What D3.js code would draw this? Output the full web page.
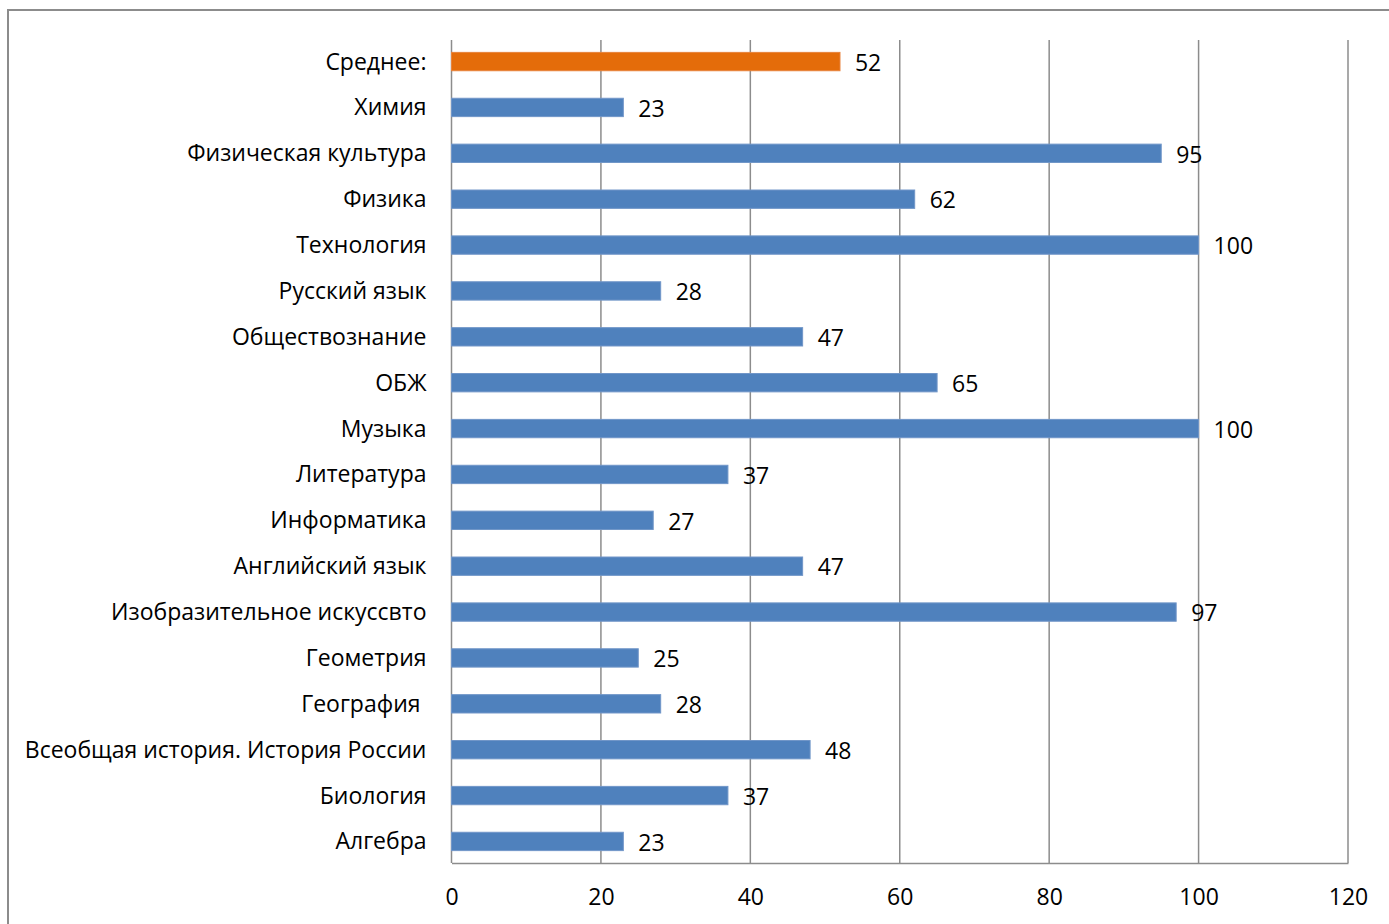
<!DOCTYPE html>
<html>
<head>
<meta charset="utf-8">
<script src="https://cdn.jsdelivr.net/npm/d3@7"></script>
<style>
  body { margin: 0; background: #fff; }
  text { font-family: "Open Sans", sans-serif; fill: #000; }
</style>
</head>
<body>
<div id="chart"></div>
<script>
var svgWidth = 1389;
var svgHeight = 924;

var subjects = ["Среднее:", "Химия", "Физическая культура", "Физика", "Технология",
    "Русский язык", "Обществознание", "ОБЖ", "Музыка", "Литература", "Информатика",
    "Английский язык", "Изобразительное искуссвто", "Геометрия", "География ",
    "Всеобщая история. История России", "Биология", "Алгебра"];
var scores = [52, 23, 95, 62, 100, 28, 47, 65, 100, 37, 27, 47, 97, 25, 28, 48, 37, 23];
var xTicks = [0, 20, 40, 60, 80, 100, 120];

var margin = { top: 40, right: 41, bottom: 61, left: 451.5 };
var width = svgWidth - margin.left - margin.right;
var height = svgHeight - margin.top - margin.bottom;

var svg = d3.select("#chart")
    .append("svg")
    .attr("width", svgWidth)
    .attr("height", svgHeight);

// outer chart border
svg.append("rect")
    .attr("x", 8)
    .attr("y", 10)
    .attr("width", svgWidth)
    .attr("height", svgHeight)
    .attr("fill", "none")
    .attr("stroke", "#8c8c8c")
    .attr("stroke-width", 2);

var chartGroup = svg.append("g")
    .attr("transform", `translate(${margin.left}, ${margin.top})`);

var xScale = d3.scaleLinear()
    .domain([0, 120])
    .range([0, width]);

var yScale = d3.scaleBand()
    .domain(subjects)
    .range([0, height])
    .paddingInner(0.6)
    .paddingOuter(0.27);

// gridlines
chartGroup.selectAll(".grid")
    .data(xTicks)
    .enter()
    .append("line")
    .attr("x1", d => xScale(d))
    .attr("x2", d => xScale(d))
    .attr("y1", 0)
    .attr("y2", height)
    .attr("stroke", "#8c8c8c")
    .attr("stroke-width", 1.5);

// bottom axis
var bottomAxis = d3.axisBottom(xScale)
    .tickValues(xTicks)
    .tickSize(0)
    .tickPadding(26);

var xAxisG = chartGroup.append("g")
    .attr("transform", `translate(0, ${height})`)
    .call(bottomAxis);
xAxisG.select(".domain").attr("stroke", "#8c8c8c").attr("stroke-width", 1.5);
xAxisG.selectAll("text").attr("font-size", 23).attr("font-family", "Open Sans");

// category labels
chartGroup.selectAll(".cat")
    .data(subjects)
    .enter()
    .append("text")
    .attr("x", -25)
    .attr("y", d => yScale(d) + yScale.bandwidth() / 2)
    .attr("dy", "0.35em")
    .attr("text-anchor", "end")
    .attr("font-size", 23)
    .style("white-space", "pre")
    .text(d => d);

// bars
chartGroup.selectAll(".bar")
    .data(subjects)
    .enter()
    .append("rect")
    .attr("x", 0)
    .attr("y", d => yScale(d))
    .attr("width", (d, i) => xScale(scores[i]))
    .attr("height", yScale.bandwidth())
    .attr("fill", (d, i) => i === 0 ? "#E46C0A" : "#4F81BD")
    .attr("stroke", (d, i) => i === 0 ? "#E8823a" : "#7196c8")
    .attr("stroke-width", 1);

// value labels
chartGroup.selectAll(".val")
    .data(subjects)
    .enter()
    .append("text")
    .attr("x", (d, i) => xScale(scores[i]) + 15)
    .attr("y", d => yScale(d) + yScale.bandwidth() / 2)
    .attr("dy", "0.4em")
    .attr("font-size", 23)
    .text((d, i) => scores[i]);
</script>
</body>
</html>
